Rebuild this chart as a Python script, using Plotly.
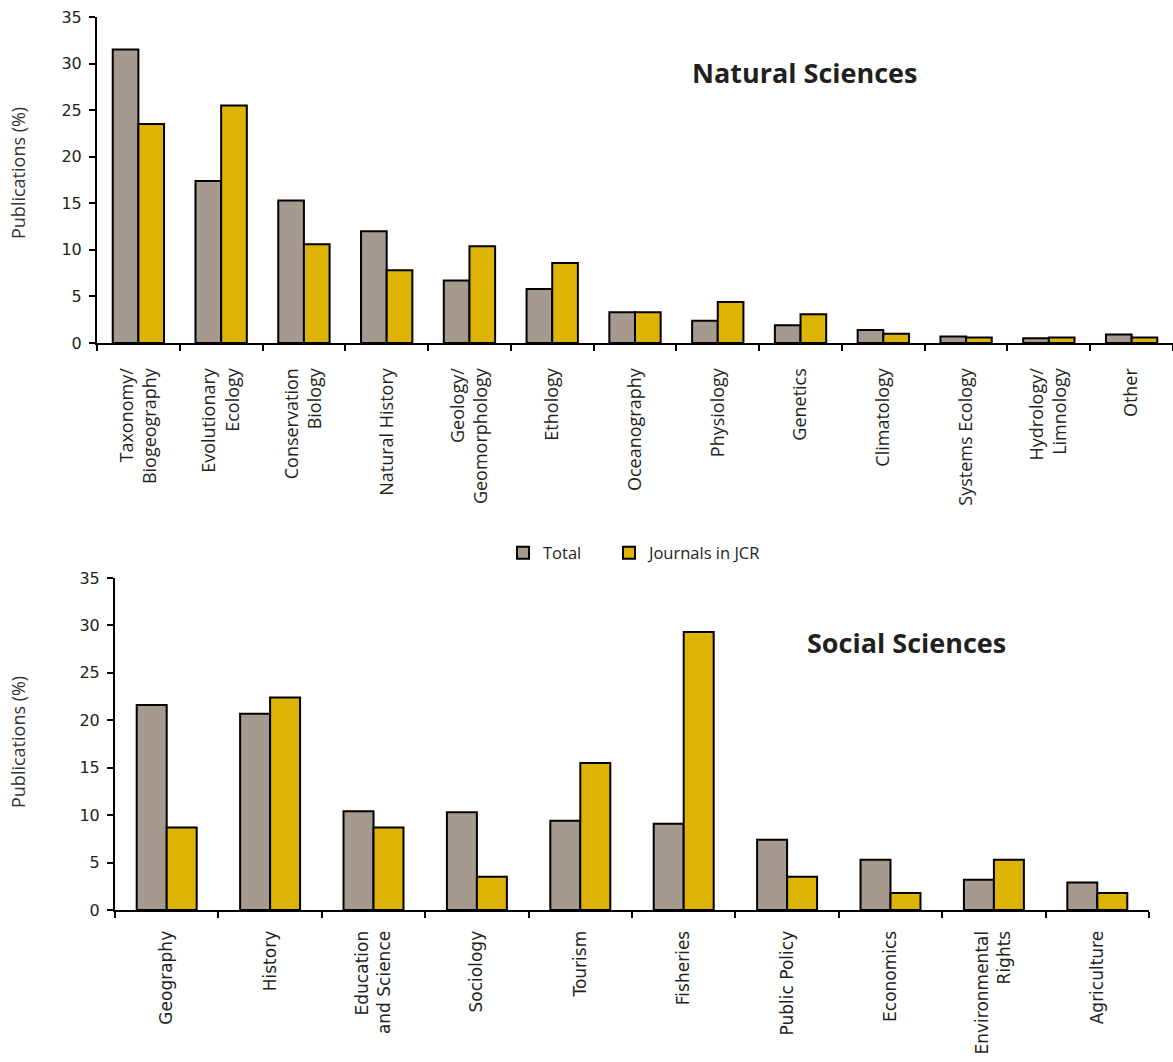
import plotly.graph_objects as go

# Natural sciences: share of publications by field
nat_fields = ["Taxonomy/<br>Biogeography", "Evolutionary<br>Ecology", "Conservation<br>Biology",
              "Natural History", "Geology/<br>Geomorphology", "Ethology", "Oceanography",
              "Physiology", "Genetics", "Climatology", "Systems Ecology",
              "Hydrology/<br>Limnology", "Other"]
nat_total = [31.5, 17.4, 15.3, 12.0, 6.7, 5.8, 3.3, 2.4, 1.9, 1.4, 0.7, 0.5, 0.9]
nat_jcr = [23.5, 25.5, 10.6, 7.8, 10.4, 8.6, 3.3, 4.4, 3.1, 1.0, 0.6, 0.6, 0.6]

# Social sciences: share of publications by field
soc_fields = ["Geography", "History", "Education<br>and Science", "Sociology", "Tourism",
              "Fisheries", "Public Policy", "Economics", "Environmental<br>Rights", "Agriculture"]
soc_total = [21.6, 20.7, 10.4, 10.3, 9.4, 9.1, 7.4, 5.3, 3.2, 2.9]
soc_jcr = [8.7, 22.4, 8.7, 3.5, 15.5, 29.3, 3.5, 1.8, 5.3, 1.8]

series_names = ["Total", "Journals in JCR"]
y_ticks = [0, 5, 10, 15, 20, 25, 30, 35]

GREY = "#A6998D"
GOLD = "#DDB306"
INK = "#231F20"

fig = go.Figure()

def add_pair(cats, total, jcr, xa, ya, w, show):
    fig.add_trace(go.Bar(x=cats, y=total, name=series_names[0], xaxis=xa, yaxis=ya,
                         width=w, offset=-w, marker=dict(color=GREY, line=dict(color="black", width=2)),
                         showlegend=show, legend="legend"))
    fig.add_trace(go.Bar(x=cats, y=jcr, name=series_names[1], xaxis=xa, yaxis=ya,
                         width=w, offset=0, marker=dict(color=GOLD, line=dict(color="black", width=2)),
                         showlegend=show, legend="legend2"))

add_pair(nat_fields, nat_total, nat_jcr, "x", "y", 0.31, True)
add_pair(soc_fields, soc_total, soc_jcr, "x2", "y2", 0.29, False)

H = 1062.0
W = 1173.0

xcommon = dict(type="category", showline=True, linecolor="black", linewidth=2,
               ticks="outside", ticklen=6, tickwidth=2, tickcolor="black",
               tickson="boundaries", tickangle=-90, showgrid=False, zeroline=False,
               automargin=False)
ycommon = dict(range=[0, 35], tickvals=y_ticks, showline=True, linecolor="black", linewidth=2,
               ticks="outside", ticklen=6, tickwidth=2, tickcolor="black",
               showgrid=False, zeroline=False, automargin=False, ticklabelstandoff=4,
               tickfont=dict(family="DejaVu Sans", size=16, color=INK))

ytitle_font = dict(family="Open Sans", size=18, color="#333333")
title_font = dict(family="Open Sans", size=27, color=INK)
legend_style = dict(orientation="h", xanchor="left", y=1 - 553 / H, yanchor="middle",
                    font=dict(family="Open Sans", size=16.5, color=INK), bgcolor="rgba(0,0,0,0)")

fig.update_layout(
    width=1173, height=1062,
    margin=dict(l=0, r=0, t=0, b=0, autoexpand=False),
    plot_bgcolor="white", paper_bgcolor="white",
    barmode="overlay",
    xaxis=dict(**xcommon, domain=[97 / W, 1.0], anchor="y", ticklabelstandoff=16,
               tickfont=dict(family="Open Sans", size=18, color=INK)),
    yaxis=dict(**ycommon, domain=[1 - 343 / H, 1 - 17 / H], anchor="x"),
    xaxis2=dict(**xcommon, domain=[115 / W, 1149 / W], anchor="y2", ticklabelstandoff=12,
                tickfont=dict(family="DejaVu Sans", size=17, color=INK)),
    yaxis2=dict(**ycommon, domain=[1 - 910 / H, 1 - 578 / H], anchor="x2"),
    legend=dict(**legend_style, x=503 / W),
    legend2=dict(**legend_style, x=609 / W),
    annotations=[
        dict(text="Publications (%)", x=18 / W, y=1 - 173 / H, xref="paper", yref="paper",
             textangle=-90, showarrow=False, xanchor="center", yanchor="middle", font=ytitle_font),
        dict(text="Publications (%)", x=18 / W, y=1 - 742 / H, xref="paper", yref="paper",
             textangle=-90, showarrow=False, xanchor="center", yanchor="middle", font=ytitle_font),
        dict(text="<b>Natural Sciences</b>", x=805 / W, y=1 - 72 / H, xref="paper", yref="paper",
             xanchor="center", yanchor="middle", showarrow=False, font=title_font),
        dict(text="<b>Social Sciences</b>", x=906 / W, y=1 - 642 / H, xref="paper", yref="paper",
             xanchor="center", yanchor="middle", showarrow=False, font=title_font),
    ],
)

fig.write_html("out.html")
